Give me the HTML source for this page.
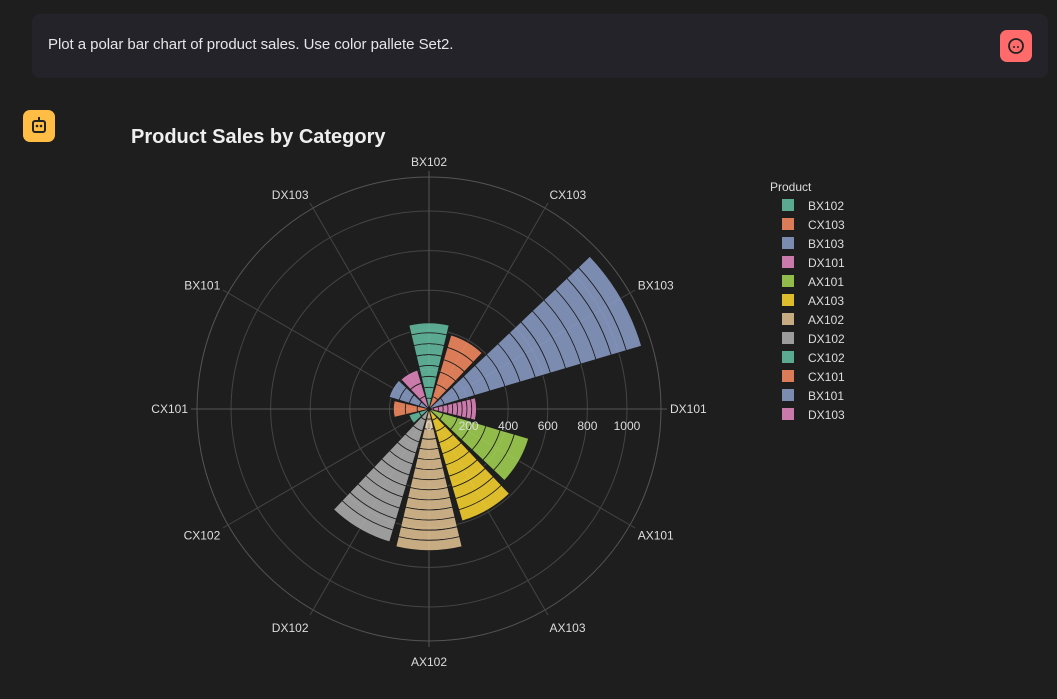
<!DOCTYPE html>
<html><head><meta charset="utf-8">
<style>
body{margin:0;width:1057px;height:699px;background:#1e1e1e;overflow:hidden;font-family:"Liberation Sans",sans-serif;}
.msg{position:absolute;left:32px;top:14px;width:1016px;height:64px;background:#24232a;border-radius:8px;}
.msg span{position:absolute;left:16px;top:22px;color:#e6e6e6;font-size:15px;letter-spacing:-0.05px;}
.av{position:absolute;width:32px;height:32px;border-radius:7px;}
</style></head><body>
<div class="msg"><span>Plot a polar bar chart of product sales. Use color pallete Set2.</span>
<div class="av" style="left:968px;top:16px;background:#ff6b6b"><svg width="32" height="32"><circle cx="16" cy="16" r="7" fill="none" stroke="#222" stroke-width="1.8"/><circle cx="14" cy="17" r="1" fill="#222"/><circle cx="18" cy="17" r="1" fill="#222"/></svg></div></div>
<div class="av" style="left:23px;top:110px;background:#ffbd45"><svg width="32" height="32"><rect x="10" y="11" width="12" height="11" rx="2" fill="none" stroke="#222" stroke-width="2"/><circle cx="14" cy="16" r="1.3" fill="#222"/><circle cx="18" cy="16" r="1.3" fill="#222"/><rect x="15" y="7" width="2" height="4" fill="#222"/></svg></div>
<svg id="chart" width="1057" height="699" style="position:absolute;left:0;top:0">
<text x="131" y="143" fill="#eee" font-size="20" font-weight="bold">Product Sales by Category</text>
</svg>
<script>
const categories=["BX102","CX103","BX103","DX101","AX101","AX103","AX102","DX102","CX102","CX101","BX101","DX103"];
const colors=["#66c2a5","#fc8d62","#8da0cb","#e78ac3","#a6d854","#ffd92f","#e5c494","#b3b3b3","#66c2a5","#fc8d62","#8da0cb","#e78ac3"];
const segBX102=[55,55,55,55,55,55,55,50];
const segCX103=[65,65,65,65,65,65];
const segBX103=[80,80,80,80,80,80,80,80,80,80,80,80,80,80];
const segDX101=[24,24,24,24,24,24,24,24,24,24];
const segAX101=[75,75,75,75,75,75,75];
const segAX103=[59,59,59,59,59,59,59,59,59,59];
const segAX102=[51,51,51,51,51,51,51,51,51,51,51,51,51,52];
const segDX102=[58,58,58,58,58,58,58,58,58,58,58,62];
const segCX102=[52,53];
const segCX101=[60,60,60];
const segBX101=[52,52,53,53];
const segDX103=[68,68,69];
const segments=[segBX102,segCX103,segBX103,segDX101,segAX101,segAX103,segAX102,segDX102,segCX102,segCX101,segBX101,segDX103];
const rTicks=[0,200,400,600,800,1000];
const ns="http://www.w3.org/2000/svg";
const svg=document.getElementById('chart');
const cx=429,cy=409,R=232,rMax=1172;
const rs=v=>v/rMax*R;
function pt(r,deg){const a=deg*Math.PI/180;return [cx+r*Math.sin(a),cy-r*Math.cos(a)];}
function mk(t,a){const e=document.createElementNS(ns,t);for(const k in a)e.setAttribute(k,a[k]);svg.appendChild(e);return e;}
rTicks.slice(1).forEach(v=>{const c=mk('circle',{cx:cx,cy:cy,r:rs(v),fill:'none',stroke:'#444','stroke-width':1});

});
const oc=mk('circle',{cx:cx,cy:cy,r:R,fill:'none',stroke:'#555','stroke-width':1});


categories.forEach((c,i)=>{const d=i*30;const p=pt(R+6,d);
const l=mk('line',{x1:cx,y1:cy,x2:p[0],y2:p[1],stroke:(d%90==0)?'#555':'#444','stroke-width':1});


const q=pt(R+9,d);const s=Math.sin(d*Math.PI/180),co=Math.cos(d*Math.PI/180);
const anc=s>0.1?'start':(s<-0.1?'end':'middle');
const by=q[1]+4+(co>0?-6*co:-12*co);
const t=mk('text',{x:q[0],y:by,fill:'#ddd','font-size':12,'text-anchor':anc});t.textContent=c;

});
const hw=13.5;
segments.forEach((segs,i)=>{const d=i*30;let base=0;
segs.forEach(v=>{const r0=rs(base),r1=rs(base+v);base+=v;
const a=pt(r0,d-hw),b=pt(r1,d-hw),c=pt(r1,d+hw),e=pt(r0,d+hw);
const p=mk('path',{d:`M${a}L${b}A${r1},${r1} 0 0 1 ${c}L${e}A${r0},${r0} 0 0 0 ${a}Z`,fill:colors[i],'fill-opacity':0.85,stroke:'#1e1e1e','stroke-width':0.8});

});});
rTicks.forEach(v=>{const t=mk('text',{x:cx+rs(v),y:cy+21,fill:'#ddd','font-size':12,'text-anchor':'middle'});t.textContent=v;

});
const lt=mk('text',{x:770,y:191,fill:'#ddd','font-size':12});lt.textContent='Product';


categories.forEach((c,i)=>{const y=205+i*19;
const r=mk('rect',{x:782,y:y-6,width:12,height:12,fill:colors[i],'fill-opacity':0.85});


const t=mk('text',{x:808,y:y+5,fill:'#ddd','font-size':12});t.textContent=c;

});
</script>
</body></html>
